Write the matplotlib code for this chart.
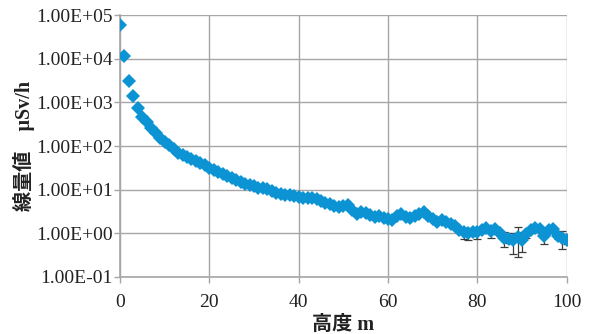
import numpy as np
import matplotlib
matplotlib.use("Agg")
from matplotlib import pyplot as plt
from matplotlib.ticker import FixedLocator, FixedFormatter, NullLocator

# height above ground (m) and measured dose rate (uSv/h)
heights = list(range(0, 101))
dose = [
    58000, 11700, 3160, 1380, 750, 468, 347, 263, 200, 155,
    126, 105, 87, 71, 63, 55, 50, 46, 40, 36,
    32, 27.5, 25.1, 22.9, 20.4, 18.2, 16.6, 15.1, 13.8, 12.9,
    12.0, 11.2, 11.0, 10.5, 9.3, 8.5, 8.1, 7.6, 7.4, 7.2,
    6.9, 6.6, 6.3, 6.3, 6.0, 5.5, 5.0, 4.6, 4.2, 4.0,
    4.2, 4.4, 3.5, 2.75, 3.16, 2.95, 2.63, 2.40, 2.51, 2.29,
    2.09, 2.00, 2.51, 2.82, 2.40, 2.19, 2.51, 2.82, 3.02, 2.51,
    2.09, 1.86, 2.00, 1.78, 1.66, 1.45, 1.20, 1.05, 1.00, 1.07,
    1.05, 1.20, 1.35, 1.15, 1.26, 1.00, 0.79, 0.74, 0.69, 0.83,
    0.72, 0.95, 1.20, 1.32, 1.26, 0.87, 1.20, 1.26, 0.89, 0.79,
    0.72,
]

# standard error for the upper heights (76 m and above)
err_heights = list(range(76, 101))
err_values = [
    0.15, 0.30, 0.30, 0.15, 0.30, 0.15, 0.15, 0.35, 0.15, 0.15,
    0.30, 0.15, 0.35, 0.55, 0.35, 0.15, 0.15, 0.15, 0.15, 0.30,
    0.15, 0.15, 0.15, 0.35, 0.15,
]

y_ticks = [1e-1, 1e0, 1e1, 1e2, 1e3, 1e4, 1e5]
y_tick_labels = ["1.00E-01", "1.00E+00", "1.00E+01", "1.00E+02",
                 "1.00E+03", "1.00E+04", "1.00E+05"]
x_ticks = [0, 20, 40, 60, 80, 100]

serif = ["Liberation Serif", "Noto Sans CJK JP"]
grid_color = "#a6a6a6"
point_color = "#0b93d4"

fig = plt.figure(figsize=(5.92, 3.34), dpi=100)
ax = fig.add_axes([0.2027, 0.1707, 0.7545, 0.7843])

err_dose = [dose[heights.index(h)] for h in err_heights]
ax.errorbar(err_heights, err_dose, yerr=err_values, fmt="none",
            ecolor="#3c3c3c", elinewidth=0.9, capsize=3, capthick=0.9, zorder=2)
ax.plot(heights, dose, linestyle="none", marker="D", markersize=7.5,
        color=point_color, markeredgewidth=0, zorder=3)

ax.set_yscale("log")
ax.set_xlim(0, 100)
ax.set_ylim(1e-1, 1e5)
ax.yaxis.set_major_locator(FixedLocator(y_ticks))
ax.yaxis.set_major_formatter(FixedFormatter(y_tick_labels))
ax.yaxis.set_minor_locator(NullLocator())
ax.set_xticks(x_ticks)

ax.grid(True, color=grid_color, linewidth=1.0)
ax.set_axisbelow(True)
for side in ["top", "right"]:
    ax.spines[side].set_visible(False)
for side in ["left", "bottom"]:
    ax.spines[side].set_color(grid_color)
    ax.spines[side].set_linewidth(1.2)

ax.tick_params(axis="both", direction="out", length=4, width=1.0,
               color=grid_color, labelsize=14, labelcolor="#222222")
ax.tick_params(axis="y", pad=1)
ax.tick_params(axis="x", pad=8)
for lbl in ax.get_xticklabels() + ax.get_yticklabels():
    lbl.set_family(serif)

ax.set_ylabel("線量値　μSv/h", family=serif, fontsize=14.5,
              fontweight="bold", color="#222222")
ax.yaxis.set_label_coords(-0.19, 0.5)
ax.set_xlabel("高度 m", family=serif, fontsize=14.5,
              fontweight="bold", color="#222222", labelpad=3)

fig.savefig("out.png", dpi=100)
